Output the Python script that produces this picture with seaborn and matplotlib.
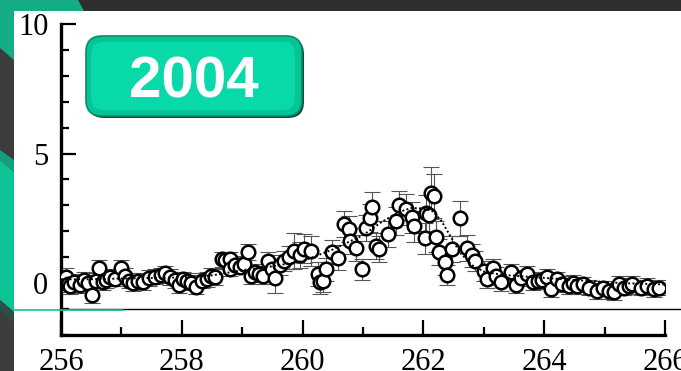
import numpy as np
import pandas as pd
import matplotlib
matplotlib.use("Agg")
import matplotlib.pyplot as plt
from matplotlib.patches import Polygon, FancyBboxPatch, Rectangle
from matplotlib.lines import Line2D
import seaborn as sns

# Measured spectrum: position, intensity and 1-sigma uncertainty
energy = [
    256.02, 256.08, 256.12, 256.15, 256.22, 256.31, 256.38, 256.45, 256.51, 256.58,
    256.63, 256.69, 256.75, 256.81, 256.90, 256.99, 257.06, 257.12, 257.19, 257.28,
    257.36, 257.45, 257.55, 257.65, 257.72, 257.81, 257.88, 257.95, 258.02, 258.08,
    258.16, 258.24, 258.33, 258.41, 258.48, 258.55, 258.66, 258.72, 258.79, 258.79,
    258.88, 258.96, 259.03, 259.10, 259.15, 259.22, 259.28, 259.34, 259.43, 259.50,
    259.55, 259.62, 259.70, 259.78, 259.86, 259.95, 260.03, 260.14, 260.25, 260.28,
    260.34, 260.39, 260.48, 260.58, 260.69, 260.77, 260.79, 260.88, 260.99, 261.05,
    261.11, 261.15, 261.21, 261.26, 261.41, 261.55, 261.59, 261.71, 261.81, 261.84,
    262.02, 262.04, 262.10, 262.13, 262.17, 262.21, 262.26, 262.35, 262.39, 262.47,
    262.60, 262.72, 262.80, 262.86, 263.01, 263.06, 263.15, 263.20, 263.28, 263.45,
    263.53, 263.62, 263.72, 263.81, 263.89, 263.97, 264.04, 264.11, 264.22, 264.30,
    264.41, 264.48, 264.55, 264.65, 264.74, 264.88, 264.97, 265.07, 265.16, 265.24,
    265.32, 265.40, 265.46, 265.60, 265.70, 265.82, 265.90,
]
intensity = [
    0.10, 0.23, -0.05, -0.10, 0.05, -0.08, 0.12, 0.02, -0.46, 0.10,
    0.60, 0.04, 0.12, 0.23, 0.18, 0.58, 0.28, 0.10, 0.00, 0.08,
    0.03, 0.19, 0.25, 0.30, 0.38, 0.24, 0.12, -0.08, 0.15, 0.09,
    0.02, -0.13, 0.10, 0.15, 0.28, 0.24, 0.92, 0.88, 0.92, 0.56,
    0.70, 0.64, 0.75, 1.20, 0.28, 0.45, 0.35, 0.28, 0.86, 0.55,
    0.20, 0.70, 0.86, 1.00, 1.24, 1.10, 1.33, 1.24, 0.35, 0.03,
    0.09, 0.54, 1.20, 0.99, 2.27, 2.08, 1.63, 1.35, 0.54, 2.14,
    2.52, 2.95, 1.43, 1.33, 1.88, 2.40, 3.00, 2.85, 2.55, 2.20,
    1.73, 2.72, 2.62, 3.49, 3.38, 1.79, 1.20, 0.82, 0.31, 1.33,
    2.50, 1.37, 1.08, 0.86, 0.47, 0.15, 0.60, 0.28, 0.03, 0.44,
    -0.08, 0.20, 0.35, 0.03, 0.09, 0.12, 0.24, -0.23, 0.15, -0.04,
    -0.10, 0.00, -0.10, -0.05, -0.17, -0.30, -0.20, -0.30, -0.36, -0.04,
    -0.17, -0.10, -0.04, -0.17, -0.10, -0.23, -0.17,
]
uncertainty = [
    0.35, 0.35, 0.30, 0.30, 0.30, 0.30, 0.30, 0.30, 0.30, 0.30,
    0.30, 0.30, 0.30, 0.30, 0.30, 0.30, 0.30, 0.30, 0.30, 0.30,
    0.30, 0.30, 0.30, 0.30, 0.30, 0.30, 0.30, 0.30, 0.30, 0.30,
    0.30, 0.30, 0.30, 0.30, 0.30, 0.30, 0.30, 0.30, 0.30, 0.30,
    0.30, 0.30, 0.30, 0.30, 0.30, 0.30, 0.30, 0.30, 0.35, 0.35,
    0.58, 0.40, 0.40, 0.45, 0.70, 0.50, 0.55, 0.58, 0.45, 0.45,
    0.45, 0.45, 0.45, 0.50, 0.50, 0.50, 0.50, 0.50, 0.40, 0.50,
    0.55, 0.55, 0.50, 0.50, 0.50, 0.55, 0.55, 0.60, 0.60, 0.60,
    0.60, 0.70, 0.80, 1.00, 0.85, 0.60, 0.50, 0.50, 0.40, 0.50,
    0.68, 0.50, 0.45, 0.40, 0.40, 0.35, 0.35, 0.35, 0.35, 0.30,
    0.30, 0.30, 0.30, 0.30, 0.30, 0.30, 0.30, 0.30, 0.30, 0.30,
    0.30, 0.30, 0.30, 0.30, 0.30, 0.30, 0.30, 0.30, 0.30, 0.30,
    0.30, 0.30, 0.30, 0.30, 0.30, 0.30, 0.30,
]

# Model curve through the spectrum
fit_energy = [256.0, 256.5, 257.0, 257.5, 258.0, 258.5, 259.0, 259.5, 260.0, 260.5,
              261.0, 261.3, 261.6, 261.8, 262.0, 262.15, 262.3, 262.45, 262.6, 262.8,
              263.0, 263.3, 263.9, 264.7, 265.3, 266.0]
fit_intensity = [0.15, 0.15, 0.18, 0.20, 0.22, 0.30, 0.50, 0.65, 0.85, 1.30,
                 1.85, 2.35, 2.75, 2.90, 2.88, 2.78, 2.40, 1.80, 1.20, 0.70,
                 0.45, 0.32, 0.22, 0.09, 0.00, -0.05]

x_major = [256, 258, 260, 262, 264, 266]
y_major = [0, 5, 10]
year_label = "2004"

W, H = 681, 371
sns.set_style("white")
fig = plt.figure(figsize=(W / 100, H / 100), dpi=100)


def fx(px):
    return px / W


def fy(py):
    return 1 - py / H


# slide background and decorations
fig.patches.append(Rectangle((0, 0), 1, 1, transform=fig.transFigure,
                             facecolor="#3c3c3c", edgecolor="none", zorder=-10))
fig.patches.append(Rectangle((0, fy(11)), 1, 11 / H, transform=fig.transFigure,
                             facecolor="#2e2e2e", edgecolor="none", zorder=-9))
teal_shapes = [
    ([(0, 0), (78, 0), (84, 11), (14, 11), (14, 60), (0, 48)], "#14ad86"),
    ([(0, 160), (14, 172), (14, 312), (0, 300)], "#0cc496"),
    ([(0, 150), (14, 160), (14, 172), (0, 160)], "#11a07e"),
    ([(0, 300), (14, 312), (14, 322), (0, 312)], "#2b4f45"),
]
for pts, col in teal_shapes:
    fig.patches.append(Polygon([(fx(a), fy(b)) for a, b in pts], closed=True,
                               transform=fig.transFigure, facecolor=col,
                               edgecolor="none", zorder=-8))
# white picture area
fig.patches.append(Rectangle((fx(14), 0), 1 - fx(14), fy(11), transform=fig.transFigure,
                             facecolor="white", edgecolor="none", zorder=-7))

ax = fig.add_axes([fx(61), fy(335), (665 - 61) / W, (335 - 24) / H])
ax.set_facecolor("none")

df = pd.DataFrame({"energy": energy, "intensity": intensity, "err": uncertainty})
fit_df = pd.DataFrame({"energy": fit_energy, "intensity": fit_intensity})

ax.errorbar(df["energy"], df["intensity"], yerr=df["err"], fmt="none",
            ecolor="#555555", elinewidth=0.8, capsize=6, capthick=0.8, zorder=2)
sns.scatterplot(data=df, x="energy", y="intensity", ax=ax, s=95, marker="o",
                facecolor="white", edgecolor="black", linewidth=1.8, zorder=3,
                legend=False)
sns.lineplot(data=fit_df, x="energy", y="intensity", ax=ax, color="black",
             linestyle=(0, (1, 1.2)), linewidth=1.4, zorder=4, legend=False)

ax.axhline(-1, xmin=0, xmax=(W - 61) / 604, color="black", linewidth=1.0,
           clip_on=False, zorder=1)

ax.set_xlim(256, 266)
ax.set_ylim(-2, 10)
ax.set_xticks(x_major)
ax.set_xticks(np.arange(256, 267, 1), minor=True)
ax.set_yticks(y_major)
ax.set_yticks(np.arange(-2, 11, 1), minor=True)
ax.set_xlabel("")
ax.set_ylabel("")

for s in ["top", "right"]:
    ax.spines[s].set_visible(False)
for s in ["left", "bottom"]:
    ax.spines[s].set_linewidth(2.4)
    ax.spines[s].set_color("black")

ax.tick_params(which="both", bottom=True, left=True, top=False, right=False)
ax.tick_params(which="major", direction="in", length=10.5, width=1.6,
               color="black", labelsize=22, pad=9)
ax.tick_params(which="minor", direction="in", length=5.5, width=1.6, color="black")
for lab in ax.get_xticklabels() + ax.get_yticklabels():
    lab.set_fontfamily("Liberation Serif")
    lab.set_color("black")

# teal rule running into the picture at the left
fig.add_artist(Line2D([fx(14), fx(123)], [fy(310), fy(310)], color="#12c496",
                      linewidth=1.2, transform=fig.transFigure, zorder=10))

# year badge
bx0, by0, bx1, by1 = 86, 36, 302, 116
r = 16
fig.patches.append(FancyBboxPatch((fx(bx0 + 2), fy(by1 + 2)), (bx1 - bx0) / W, (by1 - by0) / H,
                                  boxstyle=f"round,pad=0,rounding_size={r / W}",
                                  transform=fig.transFigure, mutation_aspect=W / H,
                                  facecolor="#0c4f3e", edgecolor="none", zorder=5))
fig.patches.append(FancyBboxPatch((fx(bx0), fy(by1)), (bx1 - bx0) / W, (by1 - by0) / H,
                                  boxstyle=f"round,pad=0,rounding_size={r / W}",
                                  transform=fig.transFigure, mutation_aspect=W / H,
                                  facecolor="#05c495", edgecolor="#0a8a6a", linewidth=1.2,
                                  zorder=6))
fig.patches.append(FancyBboxPatch((fx(bx0 + 5), fy(by1 - 6)), (bx1 - bx0 - 12) / W, (by1 - by0 - 12) / H,
                                  boxstyle=f"round,pad=0,rounding_size={12 / W}",
                                  transform=fig.transFigure, mutation_aspect=W / H,
                                  facecolor="#08d9a8", edgecolor="none", zorder=7))
fig.text(fx(194), fy(82), year_label, color="white", fontsize=42, fontweight="bold",
         family=["Liberation Sans", "DejaVu Sans"], ha="center", va="center", zorder=8)

fig.savefig("out.png", dpi=100)
